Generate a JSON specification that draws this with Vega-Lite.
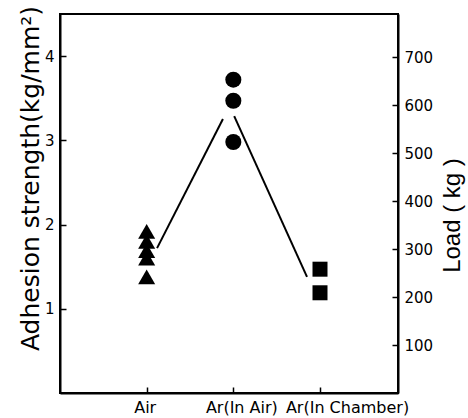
{
  "$schema": "https://vega.github.io/schema/vega-lite/v6.json",
  "width": 338,
  "height": 379,
  "autosize": "none",
  "padding": {"left": 60, "top": 14, "right": 70, "bottom": 25},
  "background": "white",
  "config": {
    "view": {"stroke": "black", "strokeWidth": 2},
    "font": "DejaVu Sans",
    "axis": {
      "grid": false,
      "domainColor": "black",
      "domainWidth": 2,
      "tickColor": "black",
      "tickWidth": 1.5,
      "labelColor": "black",
      "titleColor": "black",
      "labelFont": "DejaVu Sans",
      "titleFont": "DejaVu Sans",
      "labelFontSize": 15,
      "titleFontSize": 25,
      "titleFontWeight": "normal"
    }
  },
  "datasets": {
    "pts": [
      {"condition": 1, "group": "Air", "strength": 1.92},
      {"condition": 1, "group": "Air", "strength": 1.8},
      {"condition": 1, "group": "Air", "strength": 1.69},
      {"condition": 1, "group": "Air", "strength": 1.6},
      {"condition": 1, "group": "Air", "strength": 1.38},
      {"condition": 2, "group": "Ar(In Air)", "strength": 3.72},
      {"condition": 2, "group": "Ar(In Air)", "strength": 3.47},
      {"condition": 2, "group": "Ar(In Air)", "strength": 2.98},
      {"condition": 3, "group": "Ar(In Chamber)", "strength": 1.47},
      {"condition": 3, "group": "Ar(In Chamber)", "strength": 1.19}
    ],
    "load": [
      {"seg": "a", "condition": 1.12, "load": 302},
      {"seg": "a", "condition": 1.88, "load": 571},
      {"seg": "b", "condition": 2.01, "load": 577},
      {"seg": "b", "condition": 2.85, "load": 242}
    ]
  },
  "layer": [
    {
      "data": {"name": "pts"},
      "mark": {"type": "point", "filled": true, "opacity": 1, "color": "black"},
      "encoding": {
        "x": {
          "field": "condition",
          "type": "quantitative",
          "scale": {"domain": [0, 3.9], "nice": false, "zero": false},
          "axis": {
            "title": null,
            "values": [1, 2, 3],
            "tickSize": -6,
            "labelPadding": 12,
            "labelFontSize": 16,
            "labelOverlap": false,
            "labelOffset": {
              "condition": [
                {"test": "datum.value == 3", "value": 27},
                {"test": "datum.value == 2", "value": 8}
              ],
              "value": -2
            },
            "labelExpr": "datum.value == 1 ? 'Air' : datum.value == 2 ? 'Ar(In Air)' : 'Ar(In Chamber)'"
          }
        },
        "y": {
          "field": "strength",
          "type": "quantitative",
          "scale": {"domain": [0, 4.5], "nice": false},
          "axis": {
            "title": "Adhesion strength(kg/mm²)",
            "values": [1, 2, 3, 4],
            "tickSize": -6,
            "labelPadding": 12,
            "titleAngle": 270,
            "titleX": -30,
            "titleY": 164,
            "titleAlign": "center",
            "titleBaseline": "middle"
          }
        },
        "shape": {
          "field": "group",
          "type": "nominal",
          "scale": {
            "domain": ["Air", "Ar(In Air)", "Ar(In Chamber)"],
            "range": ["triangle-up", "circle", "square"]
          },
          "legend": null
        },
        "size": {
          "field": "group",
          "type": "nominal",
          "scale": {
            "domain": ["Air", "Ar(In Air)", "Ar(In Chamber)"],
            "range": [290, 225, 196]
          },
          "legend": null
        }
      }
    },
    {
      "data": {"name": "load"},
      "mark": {"type": "line", "color": "black", "strokeWidth": 2},
      "encoding": {
        "x": {"field": "condition", "type": "quantitative"},
        "y": {
          "field": "load",
          "type": "quantitative",
          "scale": {"domain": [0, 790], "nice": false},
          "axis": {
            "orient": "right",
            "title": "Load ( kg )",
            "titleFont": "Liberation Sans",
            "titleFontSize": 24,
            "values": [100, 200, 300, 400, 500, 600, 700],
            "tickSize": -6,
            "labelPadding": 12,
            "titleAngle": 270,
            "titleX": 54,
            "titleY": 201,
            "titleAlign": "center",
            "titleBaseline": "middle"
          }
        },
        "detail": {"field": "seg", "type": "nominal"}
      }
    }
  ],
  "resolve": {"scale": {"y": "independent"}}
}
